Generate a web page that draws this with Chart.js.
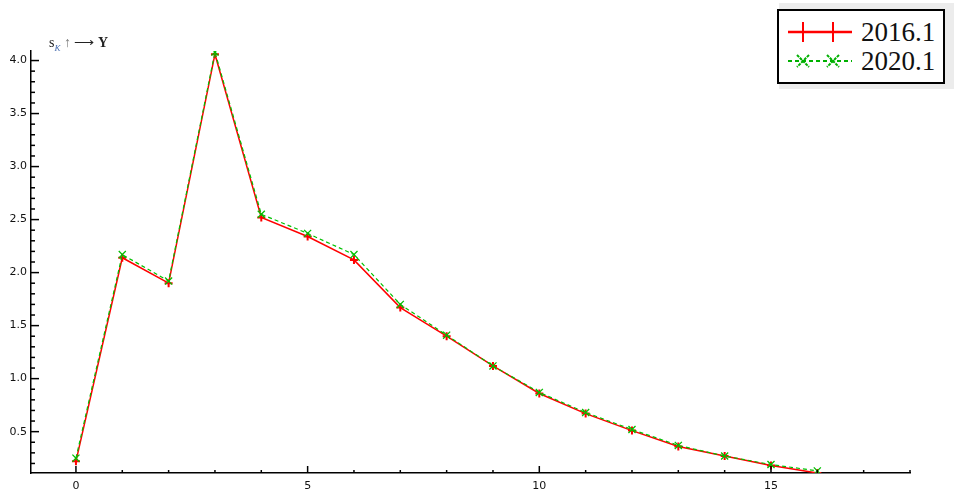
<!DOCTYPE html>
<html>
<head>
<meta charset="utf-8">
<script src="https://cdn.jsdelivr.net/npm/chart.js@4.4.1/dist/chart.umd.min.js"></script>
<style>
  body { margin: 0; background: #fff; }
  #wrap { position: relative; width: 957px; height: 492px; }
  #axisTitle {
    position: absolute; left: 49px; top: 34px;
    font-family: "Liberation Serif", serif; font-size: 14px; color: #222;
    white-space: nowrap;
  }
  #axisTitle sub { font-size: 9px; font-style: italic; color: #4a6fb0; }
  #legendShadow {
    position: absolute; left: 779px; top: 3px; width: 175px; height: 86px;
    background: #ececec;
  }
  #legend {
    position: absolute; left: 777px; top: 9px; width: 164px; height: 71px;
    background: #fff; border: 2px solid #000;
    font-family: "Liberation Serif", serif; font-size: 27px; color: #111;
  }
  .row { position: absolute; left: 0; height: 28px; display: flex; align-items: center; }
  .row svg { margin-left: 9px; }
  .row span { margin-left: 7px; }
</style>
</head>
<body>
<div id="wrap">
  <canvas id="myChart" width="957" height="492"></canvas>
  <div id="axisTitle">s<sub>K</sub> <span style="color:#777">↑</span> ⟶ <b>Y</b></div>
  <div id="legendShadow"></div>
  <div id="legend">
    <div class="row" style="top:7px">
      <svg width="66" height="24">
        <line x1="0" y1="12" x2="64" y2="12" stroke="#ff0000" stroke-width="2.5"/>
        <line x1="15" y1="2" x2="15" y2="22" stroke="#ff0000" stroke-width="2"/>
        <line x1="45" y1="2" x2="45" y2="22" stroke="#ff0000" stroke-width="2"/>
      </svg>
      <span>2016.1</span>
    </div>
    <div class="row" style="top:36px">
      <svg width="66" height="24">
        <line x1="0" y1="12" x2="64" y2="12" stroke="#00b000" stroke-width="2" stroke-dasharray="4,3"/>
        <path d="M9 6 L21 18 M21 6 L9 18 M39 6 L51 18 M51 6 L39 18" stroke="#00b000" stroke-width="2" stroke-dasharray="3,1"/>
      </svg>
      <span>2020.1</span>
    </div>
  </div>
</div>
<script>
// data
const xValues = [0, 1, 2, 3, 4, 5, 6, 7, 8, 9, 10, 11, 12, 13, 14, 15, 16];
const series2016 = [0.22, 2.14, 1.90, 4.06, 2.52, 2.34, 2.12, 1.67, 1.40, 1.12, 0.86, 0.67, 0.51, 0.36, 0.27, 0.18, 0.11];
const series2020 = [0.25, 2.17, 1.92, 4.08, 2.55, 2.37, 2.17, 1.70, 1.41, 1.12, 0.87, 0.68, 0.52, 0.37, 0.27, 0.19, 0.13];
const xTickLabels = [0, 5, 10, 15];
const yTickLabels = [0.5, 1.0, 1.5, 2.0, 2.5, 3.0, 3.5, 4.0];

function toPoints(ys) {
    return xValues.map((x, i) => ({ x: x, y: ys[i] }));
}

// inward tick marks, long for labelled values, short for the rest
const tickMarks = {
    id: 'tickMarks',
    afterDraw(chart) {
        const ctx = chart.ctx;
        const xs = chart.scales.x;
        const ys = chart.scales.y;
        const bottom = chart.chartArea.bottom;
        const left = chart.chartArea.left;
        ctx.save();
        ctx.strokeStyle = '#000';
        ctx.lineWidth = 1.5;
        for (let v = 0; v <= 18; v++) {
            const px = xs.getPixelForValue(v);
            const len = xTickLabels.includes(v) ? 7 : 3;
            ctx.beginPath();
            ctx.moveTo(px, bottom);
            ctx.lineTo(px, bottom - len);
            ctx.stroke();
        }
        for (let k = 2; k <= 40; k++) {
            const v = k / 10;
            const py = ys.getPixelForValue(v);
            const len = k % 5 === 0 ? 8 : 4;
            ctx.beginPath();
            ctx.moveTo(left, py);
            ctx.lineTo(left + len, py);
            ctx.stroke();
        }
        ctx.restore();
    }
};

function renderChart() {
    const ctx = document.getElementById('myChart').getContext('2d');
    new Chart(ctx, {
        type: 'line',
        data: {
            datasets: [
                {
                    label: '2016.1',
                    data: toPoints(series2016),
                    borderColor: '#ff0000',
                    backgroundColor: '#ff0000',
                    borderWidth: 1.5,
                    pointStyle: 'cross',
                    pointRadius: 4,
                    pointBorderWidth: 2,
                    tension: 0,
                    order: 1
                },
                {
                    label: '2020.1',
                    data: toPoints(series2020),
                    borderColor: '#00c000',
                    backgroundColor: '#00c000',
                    borderWidth: 1.2,
                    borderDash: [4, 3],
                    pointStyle: 'crossRot',
                    pointRadius: 5,
                    pointBorderWidth: 1.3,
                    tension: 0,
                    order: 0
                }
            ]
        },
        options: {
            responsive: false,
            animation: false,
            layout: { padding: { top: 51, right: 47, left: 0, bottom: 0 } },
            plugins: {
                legend: { display: false },
                tooltip: { enabled: false }
            },
            scales: {
                x: {
                    type: 'linear',
                    min: -0.97,
                    max: 18,
                    grid: { drawOnChartArea: false, drawTicks: false },
                    border: { display: true, color: '#000', width: 1.5 },
                    ticks: {
                        autoSkip: false,
                        maxRotation: 0,
                        padding: 7,
                        color: '#111',
                        font: { family: 'DejaVu Sans', size: 11 },
                        callback: v => String(v)
                    },
                    afterBuildTicks: s => { s.ticks = xTickLabels.map(v => ({ value: v })); },
                    afterFit: s => { s.height = 19; }
                },
                y: {
                    min: 0.11,
                    max: 4.09,
                    grid: { drawOnChartArea: false, drawTicks: false },
                    border: { display: true, color: '#000', width: 1.5 },
                    ticks: {
                        autoSkip: false,
                        padding: 4,
                        color: '#111',
                        font: { family: 'DejaVu Sans', size: 11 },
                        callback: v => v.toFixed(1)
                    },
                    afterBuildTicks: s => { s.ticks = yTickLabels.map(v => ({ value: v })); },
                    afterFit: s => { s.width = 31; }
                }
            }
        },
        plugins: [tickMarks]
    });
}

renderChart();
</script>
</body>
</html>
